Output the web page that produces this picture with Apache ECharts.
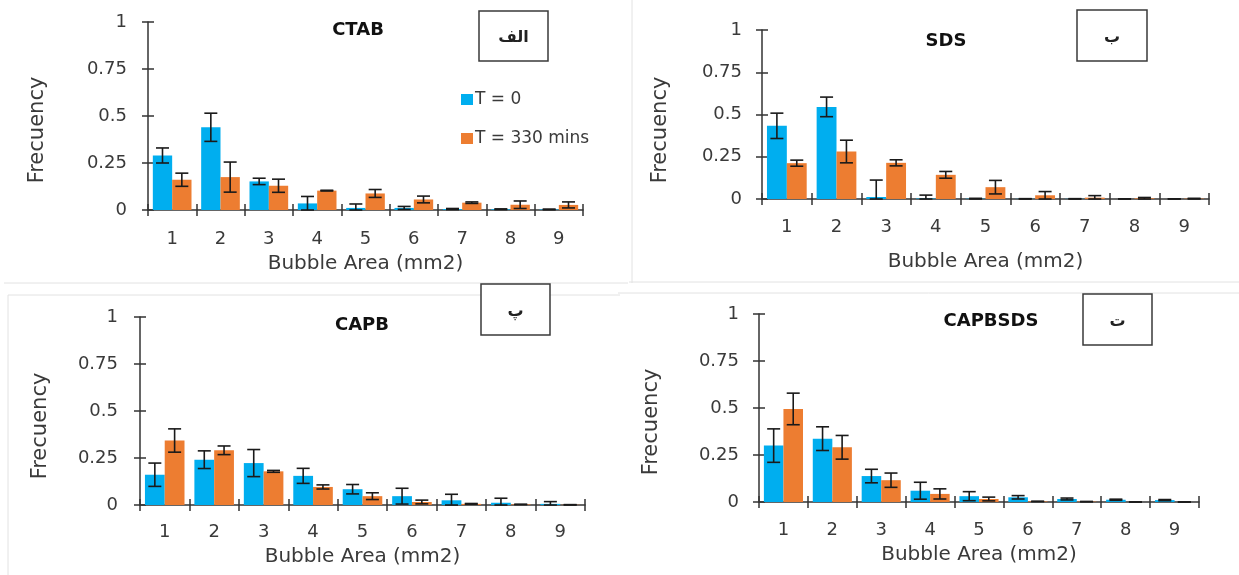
<!DOCTYPE html>
<html>
<head>
<meta charset="utf-8">
<script src="https://cdn.jsdelivr.net/npm/echarts@6/dist/echarts.min.js"></script>
<style>
html,body{margin:0;padding:0;background:#fff;}
#chart{width:1239px;height:575px;}
</style>
</head>
<body>
<div id="chart"></div>
<script>
// ---------- DATA ----------
const categories = ['1', '2', '3', '4', '5', '6', '7', '8', '9'];
const yTicks = [0, 0.25, 0.5, 0.75, 1];

const panelTitles = ['CTAB', 'SDS', 'CAPB', 'CAPBSDS'];
const panelLetters = ['الف', 'ب', 'پ', 'ت'];
const seriesNames = ['T = 0', 'T = 330 mins'];
const xAxisTitle = 'Bubble Area (mm2)';
const yAxisTitle = 'Frecuency';

// CTAB
const ctabT0      = [0.29, 0.44, 0.152, 0.035, 0.011, 0.011, 0.005, 0.004, 0.003];
const ctabT0Err   = [0.04, 0.075, 0.017, 0.037, 0.021, 0.008, 0.003, 0.002, 0.002];
const ctabT330    = [0.161, 0.175, 0.129, 0.103, 0.088, 0.056, 0.039, 0.028, 0.027];
const ctabT330Err = [0.035, 0.08, 0.035, 0.002, 0.021, 0.018, 0.004, 0.02, 0.016];
// SDS
const sdsT0       = [0.433, 0.545, 0.012, 0.003, 0.002, 0.001, 0.001, 0.0, 0.0];
const sdsT0Err    = [0.075, 0.058, 0.1, 0.02, 0.002, 0.001, 0.001, 0.001, 0.001];
const sdsT330     = [0.212, 0.281, 0.214, 0.143, 0.07, 0.022, 0.008, 0.004, 0.002];
const sdsT330Err  = [0.018, 0.067, 0.018, 0.02, 0.04, 0.022, 0.012, 0.005, 0.002];
// CAPB
const capbT0      = [0.161, 0.241, 0.223, 0.155, 0.084, 0.047, 0.025, 0.012, 0.006];
const capbT0Err   = [0.062, 0.047, 0.072, 0.04, 0.025, 0.042, 0.032, 0.024, 0.012];
const capbT330    = [0.343, 0.291, 0.179, 0.096, 0.047, 0.016, 0.006, 0.003, 0.001];
const capbT330Err = [0.062, 0.023, 0.005, 0.011, 0.018, 0.01, 0.002, 0.001, 0.001];
// CAPBSDS
const capbsdsT0      = [0.30, 0.337, 0.138, 0.06, 0.031, 0.025, 0.016, 0.012, 0.01];
const capbsdsT0Err   = [0.089, 0.063, 0.036, 0.045, 0.024, 0.009, 0.005, 0.003, 0.003];
const capbsdsT330    = [0.495, 0.291, 0.116, 0.043, 0.016, 0.003, 0.002, 0.0, 0.0];
const capbsdsT330Err = [0.084, 0.063, 0.038, 0.027, 0.01, 0.001, 0.001, 0.0, 0.0];

// ---------- LAYOUT / STYLE ----------
const FONT = 'DejaVu Sans';
const BLUE = '#00AEEF';
const ORANGE = '#ED7D31';
const AXIS = '#333333';
const TEXT = '#3a3a3a';

const panels = [
  { t0: ctabT0, t0e: ctabT0Err, t1: ctabT330, t1e: ctabT330Err,
    grid: { left: 148, top: 22, width: 435, height: 188 }, nameGap: 44, ym: 21, xm: 20,
    title: [353, 27], ylab: [38, 130], box: [479, 11, 69, 50] },
  { t0: sdsT0, t0e: sdsT0Err, t1: sdsT330, t1e: sdsT330Err,
    grid: { left: 762, top: 30, width: 447, height: 169 }, nameGap: 53, ym: 20, xm: 19,
    title: [941, 38], ylab: [661, 130], box: [1077, 10, 70, 51] },
  { t0: capbT0, t0e: capbT0Err, t1: capbT330, t1e: capbT330Err,
    grid: { left: 140, top: 317, width: 445, height: 188 }, nameGap: 42, ym: 22, xm: 18,
    title: [357, 322], ylab: [41, 426], box: [481, 284, 69, 51] },
  { t0: capbsdsT0, t0e: capbsdsT0Err, t1: capbsdsT330, t1e: capbsdsT330Err,
    grid: { left: 759, top: 314, width: 440, height: 188 }, nameGap: 43, ym: 20, xm: 19,
    title: [986, 318.5], ylab: [652, 422], box: [1083, 294, 69, 51] }
];

function errRenderer(sign) {
  return function (params, api) {
    const idx = api.value(0), v = api.value(1), e = api.value(2);
    const band = api.size([1, 0])[0];
    const c = api.coord([idx, v]);
    const x = c[0] + sign * band * 0.2;
    const yHi = api.coord([idx, v + e])[1];
    const yLo = api.coord([idx, Math.max(0, v - e)])[1];
    const cap = 6.5;
    const st = { stroke: '#1a1a1a', lineWidth: 1.6 };
    return {
      type: 'group',
      children: [
        { type: 'line', shape: { x1: x, y1: yHi, x2: x, y2: yLo }, style: st },
        { type: 'line', shape: { x1: x - cap, y1: yHi, x2: x + cap, y2: yHi }, style: st },
        { type: 'line', shape: { x1: x - cap, y1: yLo, x2: x + cap, y2: yLo }, style: st }
      ]
    };
  };
}

const grids = [], xAxes = [], yAxes = [], series = [], titles = [], graphics = [];

panels.forEach((p, i) => {
  grids.push(Object.assign({ containLabel: false }, p.grid));
  xAxes.push({
    type: 'category', gridIndex: i, data: categories, position: 'bottom',
    name: xAxisTitle, nameLocation: 'middle', nameGap: p.nameGap,
    nameTextStyle: { fontFamily: FONT, fontSize: 20, color: TEXT },
    axisLine: { show: true, lineStyle: { color: AXIS, width: 1.5 } },
    axisTick: { show: true, length: 6, lineStyle: { color: AXIS, width: 1.5 } },
    axisLabel: { fontFamily: FONT, fontSize: 18, color: TEXT, margin: p.xm },
    splitLine: { show: false }
  });
  yAxes.push({
    type: 'value', gridIndex: i, min: 0, max: 1, interval: 0.25, position: 'left',
    axisLine: { show: true, lineStyle: { color: AXIS, width: 1.5 } },
    axisTick: { show: true, length: 6, lineStyle: { color: AXIS, width: 1.5 } },
    axisLabel: { fontFamily: FONT, fontSize: 18, color: TEXT, margin: p.ym },
    splitLine: { show: false }
  });
  titles.push({
    text: panelTitles[i], left: p.title[0], top: p.title[1] - 11, textAlign: 'center',
    textStyle: { fontFamily: FONT, fontSize: 18, fontWeight: 'bold', color: '#111' }
  });
  graphics.push({
    type: 'text', x: p.ylab[0], y: p.ylab[1], rotation: Math.PI / 2,
    style: { text: yAxisTitle, font: '21px "' + FONT + '"', fill: TEXT,
             textAlign: 'center', textVerticalAlign: 'middle' }
  });
  graphics.push({
    type: 'rect', shape: { x: p.box[0], y: p.box[1], width: p.box[2], height: p.box[3] },
    style: { fill: '#fff', stroke: '#3a3a3a', lineWidth: 1.5 }, z: 10
  });
  graphics.push({
    type: 'text', x: p.box[0] + p.box[2] / 2, y: p.box[1] + p.box[3] / 2 + 2,
    style: { text: panelLetters[i], font: 'bold 16px "DejaVu Sans"', fill: '#222',
             textAlign: 'center', textVerticalAlign: 'middle' }, z: 11
  });
});

// secondary axes: inner half of crossing ticks
panels.forEach((p, i) => {
  xAxes.push({
    type: 'category', gridIndex: i, data: categories, position: 'bottom', offset: 0,
    axisLine: { show: false }, axisLabel: { show: false }, splitLine: { show: false },
    axisTick: { show: true, inside: true, length: 6, lineStyle: { color: AXIS, width: 1.5 } }
  });
  yAxes.push({
    type: 'value', gridIndex: i, min: 0, max: 1, interval: 0.25, position: 'left', offset: 0,
    axisLine: { show: false }, axisLabel: { show: false }, splitLine: { show: false },
    axisTick: { show: true, inside: true, length: 6, lineStyle: { color: AXIS, width: 1.5 } }
  });
});

panels.forEach((p, i) => {
  series.push({
    name: seriesNames[0], type: 'bar', xAxisIndex: i, yAxisIndex: i, data: p.t0,
    itemStyle: { color: BLUE }, barGap: '0%', barCategoryGap: '20%'
  });
  series.push({
    name: seriesNames[1], type: 'bar', xAxisIndex: i, yAxisIndex: i, data: p.t1,
    itemStyle: { color: ORANGE }, barGap: '0%', barCategoryGap: '20%'
  });
  series.push({
    type: 'custom', xAxisIndex: i, yAxisIndex: i, z: 5, silent: true,
    renderItem: errRenderer(-1), encode: { x: 0, y: 1 },
    data: categories.map((c, k) => [k, p.t0[k], p.t0e[k]])
  });
  series.push({
    type: 'custom', xAxisIndex: i, yAxisIndex: i, z: 5, silent: true,
    renderItem: errRenderer(1), encode: { x: 0, y: 1 },
    data: categories.map((c, k) => [k, p.t1[k], p.t1e[k]])
  });
});

// faint panel frames
const frame = { stroke: '#e2e2e2', lineWidth: 1 };
[
  [4, 283, 628, 283], [632, 0, 632, 283], [629, 282, 1239, 282],
  [8, 295, 620, 295], [8, 295, 8, 575], [618, 293, 1239, 293]
].forEach(l => graphics.push({ type: 'line', shape: { x1: l[0], y1: l[1], x2: l[2], y2: l[3] }, style: frame, z: 0 }));

const chart = echarts.init(document.getElementById('chart'), null, { renderer: 'canvas' });
chart.setOption({
  animation: false,
  backgroundColor: '#ffffff',
  title: titles,
  legend: {
    data: seriesNames, orient: 'vertical', left: 456, top: 86, itemGap: 22,
    icon: 'rect', itemWidth: 12, itemHeight: 11,
    textStyle: { fontFamily: FONT, fontSize: 17, color: TEXT, padding: [0, 0, 0, -3] }
  },
  grid: grids,
  xAxis: xAxes,
  yAxis: yAxes,
  series: series,
  graphic: graphics
});
</script>
</body>
</html>
